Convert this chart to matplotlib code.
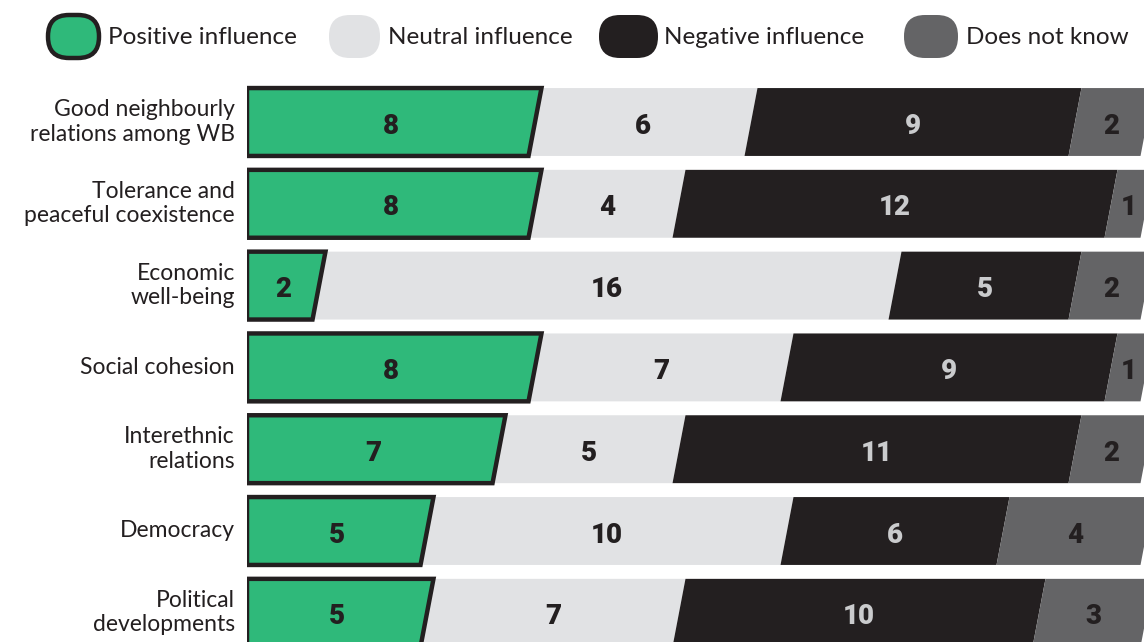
import matplotlib.pyplot as plt
from matplotlib.patches import Polygon, FancyBboxPatch

categories = ["Good neighbourly\nrelations among WB", "Tolerance and\npeaceful coexistence",
              "Economic\nwell-being", "Social cohesion", "Interethnic\nrelations",
              "Democracy", "Political\ndevelopments"]
positive = [8, 8, 2, 8, 7, 5, 5]
neutral = [6, 4, 16, 7, 5, 10, 7]
negative = [9, 12, 5, 9, 11, 6, 10]
dont_know = [2, 1, 2, 1, 2, 4, 3]
series_names = ["Positive influence", "Neutral influence", "Negative influence", "Does not know"]

colors = ["#2fb97a", "#e1e2e4", "#231f20", "#646466"]
text_colors = ["#231f20", "#231f20", "#cacbcd", "#231f20"]
dark = "#231f20"

W, H = 1144, 642
fig = plt.figure(figsize=(W / 100, H / 100), dpi=100)

# bar area: 36 px per unit, starting at x=247
x0, ppu = 247, 36.0
top_px, row_px = 80, 81.8
ax = fig.add_axes([x0 / W, 0, 1 - x0 / W, 1 - top_px / H])
ax.set_xlim(0, (W - x0) / ppu)
y_top = -(122 - top_px) / row_px
ax.set_ylim(y_top + (H - top_px) / row_px, y_top)
ax.axis("off")

h = 0.415     # half bar height
d = 0.18      # slant half-offset

series = [positive, neutral, negative, dont_know]
for r in range(len(categories)):
    left = 0
    for s, vals in enumerate(series):
        v = vals[r]
        right = left + v
        lt = left + d if s > 0 else 0
        lb = left - d if s > 0 else 0
        pts = [(lt, r - h), (right + d, r - h), (right - d, r + h), (lb, r + h)]
        if s == 0:
            poly = Polygon(pts, closed=True, facecolor=colors[s], edgecolor=dark,
                           linewidth=3.2, joinstyle="miter", zorder=5)
        else:
            poly = Polygon(pts, closed=True, facecolor=colors[s], edgecolor="none", zorder=2)
        ax.add_patch(poly)
        ax.text((left + right) / 2, r + 0.05, str(v), ha="center", va="center",
                fontsize=20, fontweight=900, family="Roboto", color=text_colors[s], zorder=6)
        left = right
    ax.text(-12 / ppu, r, categories[r], ha="right", va="center", fontsize=16.5,
            family="Lato", color=dark, linespacing=1.2, clip_on=False)

# legend drawn in pixel coordinates
lax = fig.add_axes([0, 0, 1, 1], zorder=10)
lax.set_xlim(0, W)
lax.set_ylim(H, 0)
lax.axis("off")
pills = [(48, 99, 108), (329, 380, 388), (599, 658, 664), (904, 958, 966)]
for i, (a, b, tx) in enumerate(pills):
    lax.add_patch(FancyBboxPatch((a, 15), b - a, 43, boxstyle="round,pad=0,rounding_size=21",
                                 facecolor=colors[i], edgecolor=dark if i == 0 else "none",
                                 linewidth=3.2))
    lax.text(tx, 38, series_names[i], ha="left", va="center", fontsize=17.5,
             family="Lato", color=dark)

fig.savefig("out.png", dpi=100)
